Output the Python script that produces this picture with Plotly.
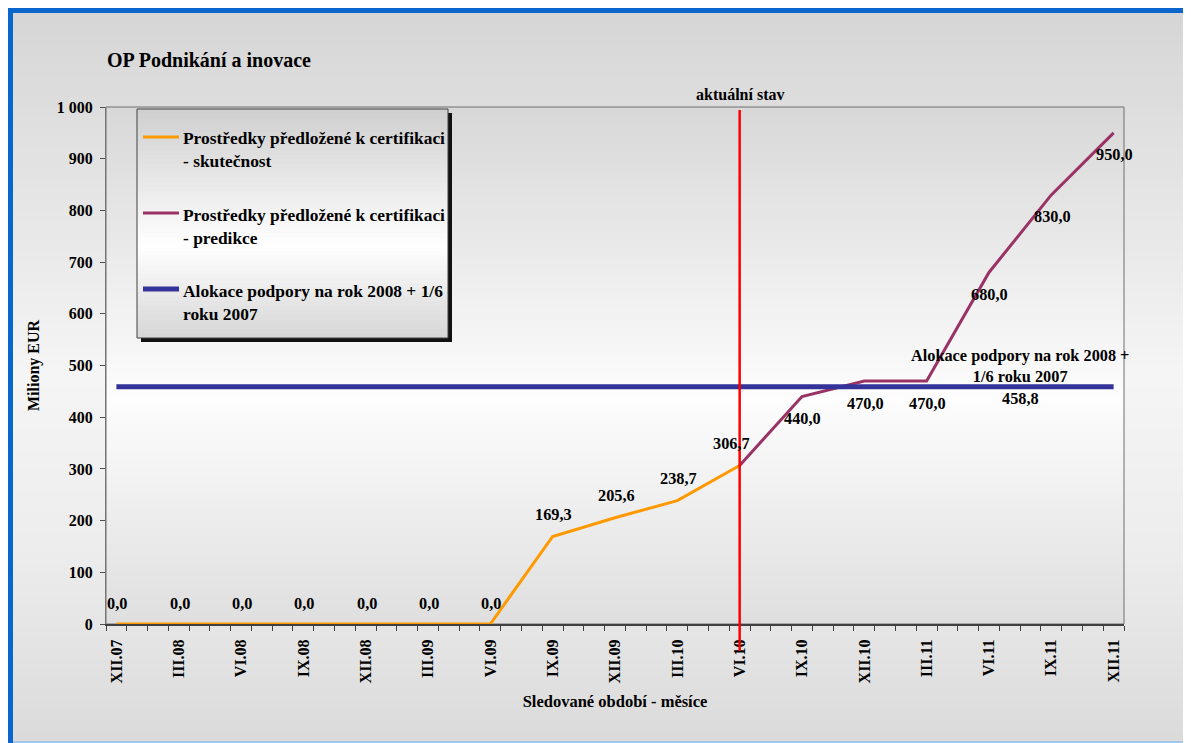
import plotly.graph_objects as go

# ---------------- data ----------------
quarters = ["XII.07", "III.08", "VI.08", "IX.08", "XII.08", "III.09", "VI.09",
            "IX.09", "XII.09", "III.10", "VI.10", "IX.10", "XII.10", "III.11",
            "VI.11", "IX.11", "XII.11"]
actual_quarters = ["XII.07", "III.08", "VI.08", "IX.08", "XII.08", "III.09",
                   "VI.09", "IX.09", "XII.09", "III.10", "VI.10"]
actual_values = [0.0, 0.0, 0.0, 0.0, 0.0, 0.0, 0.0, 169.3, 205.6, 238.7, 306.7]
forecast_quarters = ["VI.10", "IX.10", "XII.10", "III.11", "VI.11", "IX.11", "XII.11"]
forecast_values = [306.7, 440.0, 470.0, 470.0, 680.0, 830.0, 950.0]
allocation_values = [458.8, 458.8, 458.8, 458.8, 458.8, 458.8, 458.8, 458.8, 458.8,
                     458.8, 458.8, 458.8, 458.8, 458.8, 458.8, 458.8, 458.8]
current_quarter = "VI.10"
y_tick_values = [0, 100, 200, 300, 400, 500, 600, 700, 800, 900, 1000]
y_tick_text = ["0", "100", "200", "300", "400", "500", "600", "700", "800", "900", "1 000"]

series_names = ["Prostředky předložené k certifikaci - skutečnost",
                "Prostředky předložené k certifikaci - predikce",
                "Alokace podpory na rok 2008 + 1/6 roku 2007"]
legend_texts = ["Prostředky předložené k certifikaci<br>- skutečnost",
                "Prostředky předložené k certifikaci<br>- predikce",
                "Alokace podpory na rok 2008 + 1/6<br>roku 2007"]

# ---------------- helpers ----------------
MONTHS_PER_QUARTER = 3
N_MONTHS = (len(quarters) - 1) * MONTHS_PER_QUARTER + 1


def month_of(q):
    return quarters.index(q) * MONTHS_PER_QUARTER


def fmt(v):
    return f"{v:.1f}".replace(".", ",")


PAGE_W, PAGE_H = 1191, 743
OFF = 8  # default page body margin
W_FIG, H_FIG = PAGE_W - OFF, PAGE_H - OFF
L, R, T, B = 106, 1124, 107, 624      # plot area in page pixels
PW, PH = R - L, B - T


def px(x):
    return (x - L) / PW


def py(y):
    return (B - y) / PH


FONT = "Liberation Serif"
ORANGE, PURPLE, BLUE, RED = "#FF9900", "#993366", "#333399", "#FF0000"

fig = go.Figure()

fig.add_trace(go.Scatter(
    x=[month_of(q) for q in actual_quarters], y=actual_values, mode="lines",
    line=dict(color=ORANGE, width=3), name=series_names[0], showlegend=False,
    cliponaxis=False))
fig.add_trace(go.Scatter(
    x=[month_of(q) for q in forecast_quarters], y=forecast_values, mode="lines",
    line=dict(color=PURPLE, width=3), name=series_names[1], showlegend=False,
    cliponaxis=False))
fig.add_trace(go.Scatter(
    x=[month_of(q) for q in quarters], y=allocation_values, mode="lines",
    line=dict(color=BLUE, width=5), name=series_names[2], showlegend=False,
    cliponaxis=False))

shapes = []


def gradient(x0, x1, y0, y1, stops, n=70):
    """vertical gradient as stacked bands (page pixel coords)"""
    def col(f):
        for i in range(len(stops) - 1):
            f0, c0 = stops[i]
            f1, c1 = stops[i + 1]
            if f0 <= f <= f1:
                t = 0 if f1 == f0 else (f - f0) / (f1 - f0)
                v = round(c0 + (c1 - c0) * t)
                return f"rgb({v},{v},{v})"
        v = stops[-1][1]
        return f"rgb({v},{v},{v})"
    h = (y1 - y0) / n
    for i in range(n):
        ya = y0 + i * h
        yb = min(y1, ya + h + 1)
        shapes.append(dict(type="rect", xref="paper", yref="paper", layer="below",
                           x0=px(x0), x1=px(x1), y0=py(ya), y1=py(yb),
                           fillcolor=col((i + 0.5) / n), line=dict(width=0)))


# outer chart area
gradient(13, 1195, 13, 741, [(0, 214), (0.3, 232), (0.5, 245), (0.75, 236), (1, 218)])
# plot area
gradient(L, R, T, B, [(0, 216), (0.57, 253), (1, 223)])
# frame
shapes.append(dict(type="rect", xref="paper", yref="paper", layer="below",
                   x0=px(8), x1=px(13), y0=py(8), y1=py(745),
                   fillcolor="#0A66CC", line=dict(width=0)))
shapes.append(dict(type="rect", xref="paper", yref="paper", layer="below",
                   x0=px(8), x1=px(1195), y0=py(8), y1=py(13),
                   fillcolor="#0A66CC", line=dict(width=0)))
shapes.append(dict(type="rect", xref="paper", yref="paper", layer="below",
                   x0=px(13), x1=px(1195), y0=py(741), y1=py(745),
                   fillcolor="#A5C8E8", line=dict(width=0)))
# plot border
shapes.append(dict(type="rect", xref="paper", yref="paper", layer="below",
                   x0=0, x1=1, y0=0, y1=1, line=dict(color="#6E6E6E", width=1)))

# legend box (shadow + gradient + border)
LG = (137, 448, 109, 338)
shapes.append(dict(type="rect", xref="paper", yref="paper", layer="below",
                   x0=px(LG[0] + 4), x1=px(LG[1] + 4), y0=py(LG[2] + 4), y1=py(LG[3] + 4),
                   fillcolor="#111111", line=dict(width=0)))
gradient(LG[0], LG[1], LG[2], LG[3], [(0, 207), (0.6, 255), (1, 214)], n=50)
shapes.append(dict(type="rect", xref="paper", yref="paper", layer="below",
                   x0=px(LG[0]), x1=px(LG[1]), y0=py(LG[2]), y1=py(LG[3]),
                   line=dict(color="#404040", width=1)))

legend_items = [(ORANGE, 3, 137, 149.5), (PURPLE, 3, 213, 226.5), (BLUE, 5, 289, 302.5)]
annotations = []
for (c, w, ly, ty), txt in zip(legend_items, legend_texts):
    shapes.append(dict(type="line", xref="paper", yref="paper",
                       x0=px(143), x1=px(179), y0=py(ly), y1=py(ly),
                       line=dict(color=c, width=w)))
    annotations.append(dict(xref="paper", yref="paper", x=px(181), y=py(ty),
                            xanchor="left", yanchor="middle", align="left",
                            showarrow=False, text=txt,
                            font=dict(family=FONT, size=17.4, weight="bold", color="black")))

# current state line
cm = month_of(current_quarter)
shapes.append(dict(type="line", xref="x", yref="paper", x0=cm, x1=cm,
                   y0=py(651), y1=py(110), line=dict(color=RED, width=2.5), layer="above"))
annotations.append(dict(xref="x", yref="paper", x=cm, y=py(95), showarrow=False,
                        text="aktuální stav", xanchor="center", yanchor="middle",
                        font=dict(family=FONT, size=16, weight="bold", color="black")))

LBL = dict(family=FONT, size=16.3, weight="bold", color="black")
# data labels - actual (above)
actual_xshift = [0, 0, 0, 0, 0, 0, 0, 0, 0, 0, -9]
for q, v, xs in zip(actual_quarters, actual_values, actual_xshift):
    annotations.append(dict(x=month_of(q), y=v, text=fmt(v), showarrow=False,
                            xshift=xs + 1, yshift=22 if v > 0 else 21,
                            xanchor="center", yanchor="middle", font=LBL))
# data labels - forecast (below)
for q, v in zip(forecast_quarters[1:], forecast_values[1:]):
    annotations.append(dict(x=month_of(q), y=v, text=fmt(v), showarrow=False,
                            xshift=1, yshift=-22, xanchor="center", yanchor="middle",
                            font=LBL))
# allocation label + series name label
aq = "IX.11"
av = allocation_values[quarters.index(aq)]
annotations.append(dict(x=month_of(aq), y=av, text=fmt(av), showarrow=False,
                        xshift=-31, yshift=-12, xanchor="center", yanchor="middle", font=LBL))
annotations.append(dict(x=month_of(aq), y=av,
                        text="Alokace podpory na rok 2008 +<br>1/6 roku 2007", showarrow=False,
                        xshift=-31, yshift=21, xanchor="center", yanchor="middle",
                        align="center", font=LBL))

fig.update_layout(
    width=W_FIG, height=H_FIG,
    margin=dict(l=L - OFF, r=PAGE_W - R, t=T - OFF, b=PAGE_H - B, autoexpand=False),
    paper_bgcolor="white", plot_bgcolor="rgba(0,0,0,0)",
    showlegend=False,
    title=dict(text="OP Podnikání a inovace", x=px(107), xref="paper", xanchor="left",
               y=1 - (60 - OFF) / H_FIG, yref="container", yanchor="middle",
               font=dict(family=FONT, size=20, weight="bold", color="black")),
    font=dict(family=FONT, size=16, color="black"),
    shapes=shapes, annotations=annotations,
)

fig.update_xaxes(
    range=[-0.5, N_MONTHS - 0.5], showgrid=False, zeroline=False,
    tickmode="array", tickvals=[month_of(q) for q in quarters], ticktext=quarters,
    tickangle=-90, ticks="", ticklabelstandoff=7,
    tickfont=dict(family=FONT, size=16, weight="bold", color="black"),
    minor=dict(tickvals=[m - 0.5 for m in range(N_MONTHS + 1)], ticks="outside",
               ticklen=5, tickcolor="#404040", tickwidth=1, showgrid=False),
    showline=True, linecolor="#404040", linewidth=2,
    title=dict(text="Sledované období - měsíce", standoff=13,
               font=dict(family=FONT, size=16.5, weight="bold", color="black")),
    automargin=False,
)
fig.update_yaxes(
    range=[0, 1000], showgrid=False, zeroline=False,
    tickmode="array", tickvals=y_tick_values, ticktext=y_tick_text,
    ticks="outside", ticklen=5, tickcolor="#505050", ticklabelstandoff=4,
    tickfont=dict(family=FONT, size=16, weight="bold", color="black"),
    showline=True, linecolor="#777777", linewidth=1,
    title=dict(text="Miliony EUR", standoff=13,
               font=dict(family=FONT, size=16, weight="bold", color="black")),
    automargin=False,
)

fig.write_html("out.html")
